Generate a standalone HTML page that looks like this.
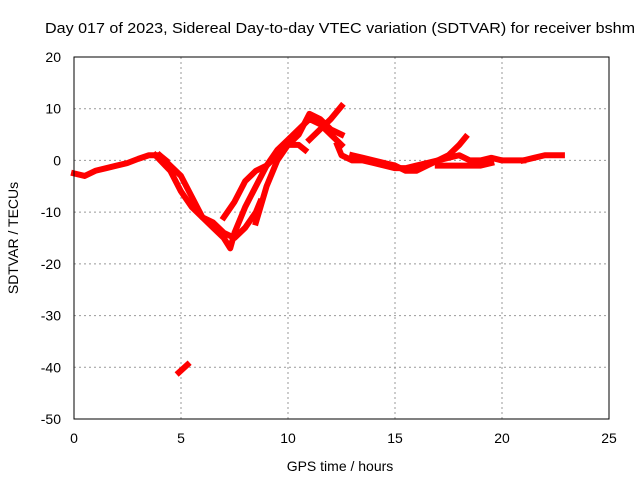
<!DOCTYPE html>
<html><head><meta charset="utf-8"><style>
body{margin:0;background:#fff;}
svg{display:block;font-family:"Liberation Sans",sans-serif;font-size:14px;}
</style></head><body>
<svg id="chart" width="640" height="480" viewBox="0 0 640 480">
<rect width="640" height="480" fill="#fff"/>
<text x="45" y="33" textLength="590" lengthAdjust="spacingAndGlyphs" font-size="15">Day 017 of 2023, Sidereal Day-to-day VTEC variation (SDTVAR) for receiver bshm</text>
<text x="340" y="471" text-anchor="middle">GPS time / hours</text>
<text transform="translate(18,238) rotate(-90)" text-anchor="middle">SDTVAR / TECUs</text>
<g id="grid"></g><g id="ticks"></g><g id="series"></g>
<rect x="74" y="57" width="535" height="362" fill="none" stroke="#000" stroke-width="1"/>
</svg>
<script>
const xTicks=[0,5,10,15,20,25];
const yTicks=[20,10,0,-10,-20,-30,-40,-50];
const trackA=[[0,-2.5],[0.5,-3],[1,-2],[1.5,-1.5],[2,-1],[2.5,-0.5],[3,0.3],[3.5,1],[4,1],[4.3,0]];
const trackB=[[3.8,1],[4.5,-2],[5,-6],[5.5,-9],[6,-11],[6.5,-13],[7,-15],[7.3,-17],[7.5,-14],[8,-9],[8.5,-5],[9,-1],[9.5,2],[10,4],[10.5,6],[11,8],[11.5,7],[12,5],[12.5,3]];
const trackC=[[4,1],[4.5,-1],[5,-3],[5.5,-7],[6,-11],[6.5,-12],[7,-14],[7.5,-15],[8,-13],[8.5,-10],[8.7,-8]];
const trackD=[[7,-11],[7.5,-8],[8,-4],[8.5,-2],[9,-1],[9.5,1],[10,3],[10.5,5],[11,9],[11.5,8],[12,6],[12.5,5]];
const trackE=[[8.5,-12],[9,-5],[9.5,0],[10,3],[10.5,3],[10.8,2]];
const trackE2=[[11,4],[11.5,6],[12,8],[12.5,10.5]];
const trackF=[[12.3,3],[12.5,1],[13,0],[13.5,0],[14,-0.5],[14.5,-1],[15,-1.5],[15.5,-1.5],[16,-1],[16.5,-0.5],[17,0],[17.5,0.5],[18,1],[18.5,0],[19,0],[19.5,0.5],[20,0],[20.5,0],[21,0]];
const trackG=[[13,1],[13.5,0.5],[14,0],[14.5,-0.5],[15,-1],[15.5,-2],[16,-2],[16.5,-1],[17,0],[17.5,1],[18,3],[18.3,4.5]];
const trackH=[[17,-1],[18,-1],[19,-1],[19.5,-0.5]];
const trackI=[[21,0],[21.5,0.5],[22,1],[22.5,1],[22.8,1]];
const trackJ=[[4.9,-41],[5.3,-39.5]];
const tracks=[trackA,trackB,trackC,trackD,trackE,trackE2,trackF,trackG,trackH,trackI,trackJ];

const X0=74,X1=609,Y0=57,Y1=419;
const sx=v=>X0+(v-0)/(25-0)*(X1-X0);
const sy=v=>Y1-(v+50)/70*(Y1-Y0);
const NS="http://www.w3.org/2000/svg";
const grid=document.getElementById('grid'),ticks=document.getElementById('ticks'),ser=document.getElementById('series');
function mk(tag,attrs,parent){const e=document.createElementNS(NS,tag);for(const k in attrs)e.setAttribute(k,attrs[k]);parent.appendChild(e);return e;}
xTicks.forEach(t=>{
  const x=sx(t);
  if(t>0&&t<25){const g=mk('line',{x1:x,x2:x,y1:Y0,y2:Y1,stroke:'#999','stroke-dasharray':'2,3','stroke-width':1},grid);
  
  }
  const l=mk('text',{x:x,y:443,'text-anchor':'middle'},ticks);l.textContent=t;
  
  
});
yTicks.forEach(t=>{
  const y=sy(t);
  if(t>-50&&t<20){const g=mk('line',{x1:X0,x2:X1,y1:y,y2:y,stroke:'#999','stroke-dasharray':'2,3','stroke-width':1},grid);
  
  }
  const l=mk('text',{x:61,y:y+5,'text-anchor':'end'},ticks);l.textContent=t;
  
  
});
tracks.forEach(tr=>{
  const p=mk('polyline',{points:tr.map(d=>sx(d[0])+','+sy(d[1])).join(' '),fill:'none',stroke:'#f00','stroke-width':6,'stroke-linejoin':'round','stroke-linecap':'square'},ser);
  
  
});
</script>
</body></html>
